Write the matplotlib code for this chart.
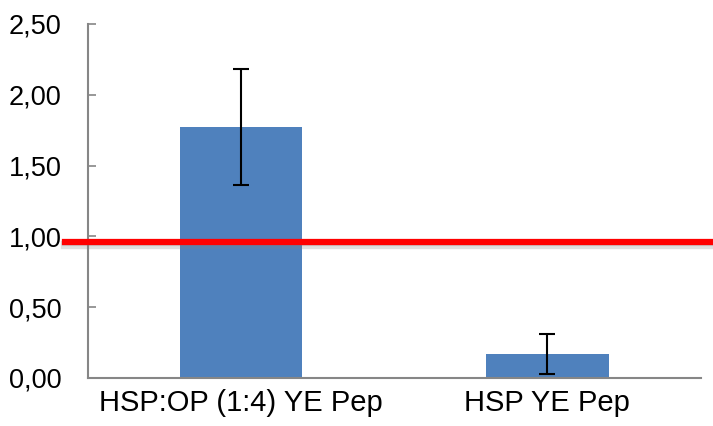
import matplotlib.pyplot as plt
import matplotlib.patheffects as pe
from matplotlib.ticker import FuncFormatter

# data
categories = ["HSP:OP (1:4) YE Pep", "HSP YE Pep"]
values = [1.77, 0.17]
errors = [0.41, 0.14]
threshold = 0.96

plt.rcParams['font.family'] = ['Liberation Sans', 'DejaVu Sans']

fig = plt.figure(figsize=(7.13, 4.26), dpi=100)
ax = fig.add_axes([0.1234, 0.1127, 0.8591, 0.831])

x = range(len(categories))
ax.bar(x, values, width=0.40, color="#4F81BD", zorder=2)
ax.errorbar(x, values, yerr=errors, fmt="none", ecolor="black",
            elinewidth=1.5, capsize=6, capthick=1.5, zorder=3)

# red reference line, runs past the y axis to the figure edge
ax.plot([-0.0376, 1.03], [threshold, threshold], color="#FF0000", lw=4.5,
        transform=ax.get_yaxis_transform(), clip_on=False, zorder=4,
        path_effects=[pe.SimpleLineShadow(offset=(0, -2), shadow_color="gray",
                                          alpha=0.25, linewidth=6),
                      pe.SimpleLineShadow(offset=(0, -1), shadow_color="gray",
                                          alpha=0.25),
                      pe.Normal()])

ax.set_xlim(-0.5, 1.5)
ax.set_ylim(0, 2.5)
ax.set_yticks([0, 0.5, 1.0, 1.5, 2.0, 2.5])
ax.yaxis.set_major_formatter(FuncFormatter(lambda v, p: f"{v:.2f}".replace(".", ",")))
ax.set_xticks(list(x))
ax.set_xticklabels(categories)

for s in ["top", "right"]:
    ax.spines[s].set_visible(False)
for s in ["left", "bottom"]:
    ax.spines[s].set_color("#868686")
    ax.spines[s].set_linewidth(1.5)

ax.tick_params(axis="y", direction="in", length=6, width=1.2, color="#868686",
               labelsize=19.5, pad=19)
ax.tick_params(axis="x", length=0, labelsize=21, pad=8)

fig.savefig("out.png", dpi=100)
